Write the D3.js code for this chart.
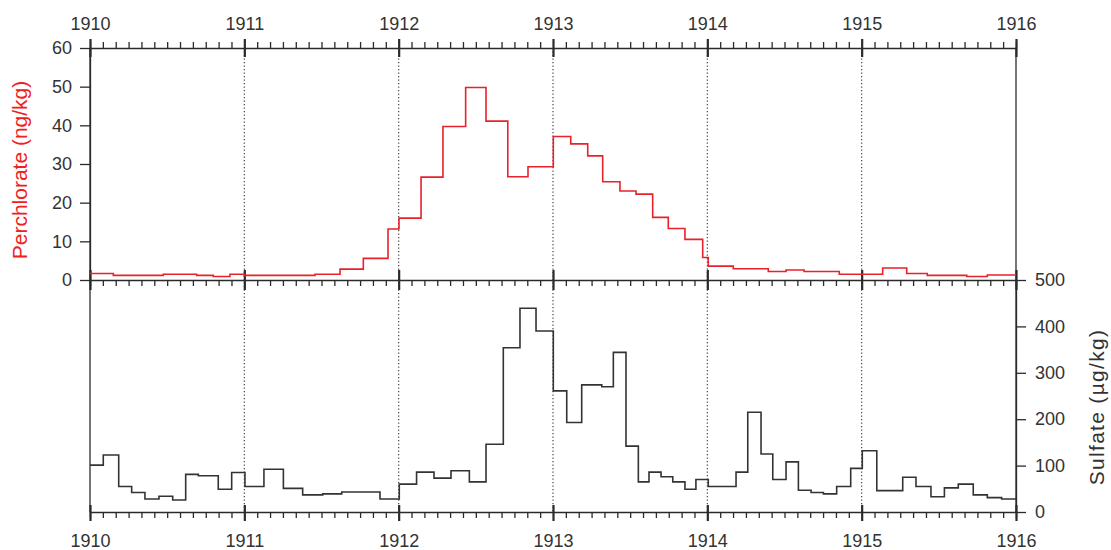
<!DOCTYPE html>
<html>
<head>
<meta charset="utf-8">
<script src="https://cdn.jsdelivr.net/npm/d3@7"></script>
<style>
  html, body { margin: 0; padding: 0; background: #fff; }
  svg { display: block; font-family: "Liberation Sans", Arial, sans-serif; }
</style>
</head>
<body>
<svg id="chart" width="1111" height="550"></svg>
<script>
// ---- data (decimal year at start of step, value) ----
const perchlorateYears = [1910.000, 1910.151, 1910.475, 1910.691, 1910.799, 1910.907, 1910.998, 1911.458, 1911.620, 1911.771,
  1911.931, 1912.002, 1912.145, 1912.287, 1912.434, 1912.566, 1912.707, 1912.838, 1913.002, 1913.115,
  1913.225, 1913.322, 1913.434, 1913.538, 1913.646, 1913.747, 1913.855, 1913.970, 1914.006, 1914.168,
  1914.395, 1914.510, 1914.627, 1914.855, 1915.136, 1915.292, 1915.425, 1915.681, 1915.814, 1916.000];
const perchlorateValues = [1.7, 1.2, 1.5, 1.2, 0.9, 1.5, 1.2, 1.5, 2.8, 5.6,
  13.2, 16.0, 26.6, 39.7, 49.8, 41.1, 26.7, 29.3, 37.1, 35.2,
  32.1, 25.4, 23.0, 22.2, 16.2, 13.3, 10.5, 5.8, 3.6, 2.9,
  2.2, 2.6, 2.2, 1.5, 3.1, 1.7, 1.2, 0.9, 1.3, 1.3];

const sulfateYears = [1910.000, 1910.086, 1910.186, 1910.270, 1910.356, 1910.447, 1910.536, 1910.620, 1910.702, 1910.831,
  1910.918, 1911.004, 1911.127, 1911.253, 1911.378, 1911.508, 1911.631, 1911.879, 1912.004, 1912.116,
  1912.229, 1912.339, 1912.458, 1912.566, 1912.678, 1912.786, 1912.890, 1913.002, 1913.089, 1913.186,
  1913.316, 1913.391, 1913.473, 1913.553, 1913.622, 1913.700, 1913.776, 1913.855, 1913.926, 1914.006,
  1914.186, 1914.262, 1914.348, 1914.424, 1914.510, 1914.590, 1914.672, 1914.752, 1914.838, 1914.929,
  1915.004, 1915.098, 1915.266, 1915.352, 1915.449, 1915.536, 1915.626, 1915.723, 1915.814, 1915.907, 1916.000];
const sulfateValues = [101, 123, 55, 42, 28, 34, 26, 81, 78, 49,
  85, 55, 92, 51, 37, 39, 43, 28, 60, 86,
  73, 89, 65, 146, 354, 439, 390, 261, 193, 274,
  270, 344, 142, 65, 86, 76, 65, 49, 70, 55,
  86, 215, 125, 70, 108, 47, 42, 39, 55, 94,
  132, 46, 75, 55, 33, 52, 60, 37, 31, 28, 28];

const yearTicks = [1910, 1911, 1912, 1913, 1914, 1915, 1916];
const gridYears = [1911, 1912, 1913, 1914, 1915];
const perchlorateTicks = [0, 10, 20, 30, 40, 50, 60];
const sulfateTicks = [0, 100, 200, 300, 400, 500];
const monthTicks = d3.range(0, 72).map(i => 1910 + i / 12).filter(v => Math.abs(v - Math.round(v)) > 1e-6);

// ---- layout ----
const L = 90, R = 1016, T = 48, M = 280, B = 512;
const ink = "#2b2b2b";
const svg = d3.select("#chart");

const x = d3.scaleLinear().domain([1910, 1916]).range([L, R]);
const yTop = d3.scaleLinear().domain([0, 60]).range([M, T]);
const yBot = d3.scaleLinear().domain([0, 500]).range([B, M]);

// grid lines
svg.append("g").selectAll("line").data(gridYears).join("line")
  .attr("x1", d => x(d)).attr("x2", d => x(d))
  .attr("y1", T).attr("y2", B)
  .attr("stroke", "#444").attr("stroke-width", 1.2)
  .attr("stroke-dasharray", "1.3,2.2");

function styleAxis(g) {
  g.select(".domain").attr("stroke", ink).attr("stroke-width", 1.3);
  g.selectAll(".tick line").attr("stroke", ink).attr("stroke-width", 1.3);
  g.selectAll(".tick text").attr("fill", "#333").attr("font-size", 18)
    .attr("font-family", '"Liberation Sans", Arial, sans-serif');
}

// top axis: minor ticks (outward), major ticks crossing
svg.append("g").attr("transform", `translate(0,${T})`)
  .call(d3.axisTop(x).tickValues(monthTicks).tickSize(6).tickFormat(""))
  .call(styleAxis);
svg.append("g").attr("transform", `translate(0,${T})`)
  .call(d3.axisTop(x).tickValues(yearTicks).tickSize(9).tickPadding(9).tickFormat(d3.format("d")))
  .call(styleAxis)
  .call(g => g.selectAll(".tick line").attr("y1", 9).attr("stroke-width", 2.2))
  .call(g => g.select(".domain").remove());

// middle axis
svg.append("g").attr("transform", `translate(0,${M})`)
  .call(d3.axisBottom(x).tickValues(monthTicks).tickSize(6).tickFormat(""))
  .call(styleAxis);
svg.append("g").attr("transform", `translate(0,${M})`)
  .call(d3.axisBottom(x).tickValues(yearTicks).tickSize(10).tickFormat(""))
  .call(styleAxis)
  .call(g => g.selectAll(".tick line").attr("y1", -10).attr("stroke-width", 2.2))
  .call(g => g.select(".domain").remove());

// bottom axis
svg.append("g").attr("transform", `translate(0,${B})`)
  .call(d3.axisBottom(x).tickValues(monthTicks).tickSize(6).tickFormat(""))
  .call(styleAxis);
svg.append("g").attr("transform", `translate(0,${B})`)
  .call(d3.axisBottom(x).tickValues(yearTicks).tickSize(9).tickPadding(13).tickFormat(d3.format("d")))
  .call(styleAxis)
  .call(g => g.selectAll(".tick line").attr("y1", -7).attr("stroke-width", 2.2))
  .call(g => g.select(".domain").remove());

// left axis (perchlorate)
svg.append("g").attr("transform", `translate(${L},0)`)
  .call(d3.axisLeft(yTop).tickValues(perchlorateTicks).tickSize(10).tickPadding(8).tickSizeOuter(0))
  .call(styleAxis);
svg.append("line").attr("x1", L).attr("x2", L).attr("y1", T).attr("y2", B)
  .attr("stroke", ink).attr("stroke-width", 1.3);

// right axis (sulfate)
svg.append("g").attr("transform", `translate(${R},0)`)
  .call(d3.axisRight(yBot).tickValues(sulfateTicks).tickSize(10).tickPadding(9).tickSizeOuter(0))
  .call(styleAxis);
svg.append("line").attr("x1", R).attr("x2", R).attr("y1", T).attr("y2", B)
  .attr("stroke", ink).attr("stroke-width", 1.3);

// step lines
const perchlorate = perchlorateYears.map((d, i) => ({ x: d, v: perchlorateValues[i] }));
const sulfate = sulfateYears.map((d, i) => ({ x: d, v: sulfateValues[i] }));

svg.append("path").datum(perchlorate)
  .attr("fill", "none").attr("stroke", "#e8222a").attr("stroke-width", 1.6)
  .attr("d", d3.line().curve(d3.curveStepAfter).x(d => x(d.x)).y(d => yTop(d.v)));

svg.append("path").datum(sulfate)
  .attr("fill", "none").attr("stroke", "#333").attr("stroke-width", 1.6)
  .attr("d", d3.line().curve(d3.curveStepAfter).x(d => x(d.x)).y(d => yBot(d.v)));

// axis titles
svg.append("text")
  .attr("transform", `translate(27,170) rotate(-90)`)
  .attr("text-anchor", "middle")
  .attr("fill", "#f02020").attr("font-size", 21)
  .text("Perchlorate (ng/kg)");

svg.append("text")
  .attr("transform", `translate(1104,407) rotate(-90)`)
  .attr("text-anchor", "middle")
  .attr("fill", "#333").attr("font-size", 21).attr("letter-spacing", 1.3)
  .text("Sulfate (µg/kg)");
</script>
</body>
</html>
